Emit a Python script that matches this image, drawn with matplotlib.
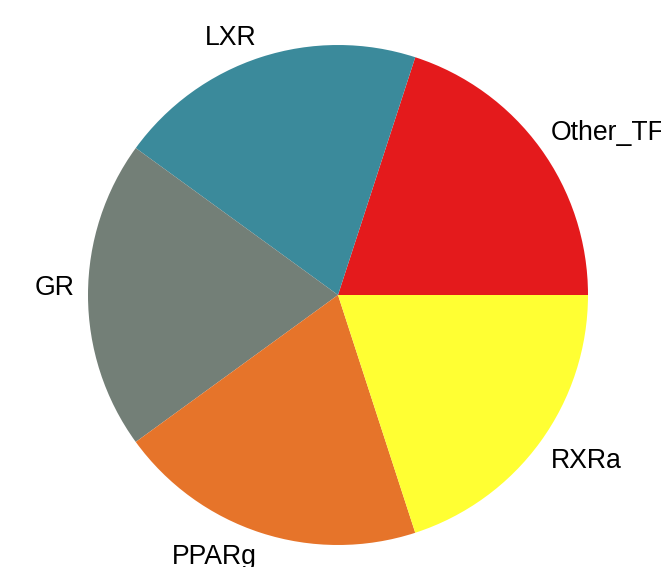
import matplotlib
matplotlib.use("Agg")
import matplotlib.pyplot as plt
import numpy as np

labels = ["Other_TF", "LXR", "GR", "PPARg", "RXRa"]
values = [1, 1, 1, 1, 1]
colors = ["#E41A1C", "#3B8A9B", "#737F77", "#E6742A", "#FFFF33"]

plt.rcParams['font.family'] = ['Liberation Sans', 'DejaVu Sans']

fig = plt.figure(figsize=(6.61, 5.67), dpi=100)
W, H = 661, 567
cx, cy, R = 338, 295, 250
ax = fig.add_axes([(cx - R) / W, (H - cy - R) / H, 2 * R / W, 2 * R / H])

wedges, _ = ax.pie(values, colors=colors, startangle=0, counterclock=True,
                   radius=1, wedgeprops=dict(linewidth=0))
ax.set_xlim(-1, 1)
ax.set_ylim(-1, 1)
ax.set_aspect('equal')
ax.axis('off')

ld = 1.052
cap = 0.074
total = sum(values)
start = 0.0
for lab, v in zip(labels, values):
    mid = np.deg2rad(360.0 * (start + v / 2) / total)
    start += v
    x, y = ld * np.cos(mid), ld * np.sin(mid)
    ha = 'left' if x > 1e-6 else 'right'
    if y < -1e-6:
        y = y - cap
    ax.text(x, y, lab, ha=ha, va='baseline', fontsize=19.2, color='black',
            clip_on=False)

fig.savefig("out.png", dpi=100)
